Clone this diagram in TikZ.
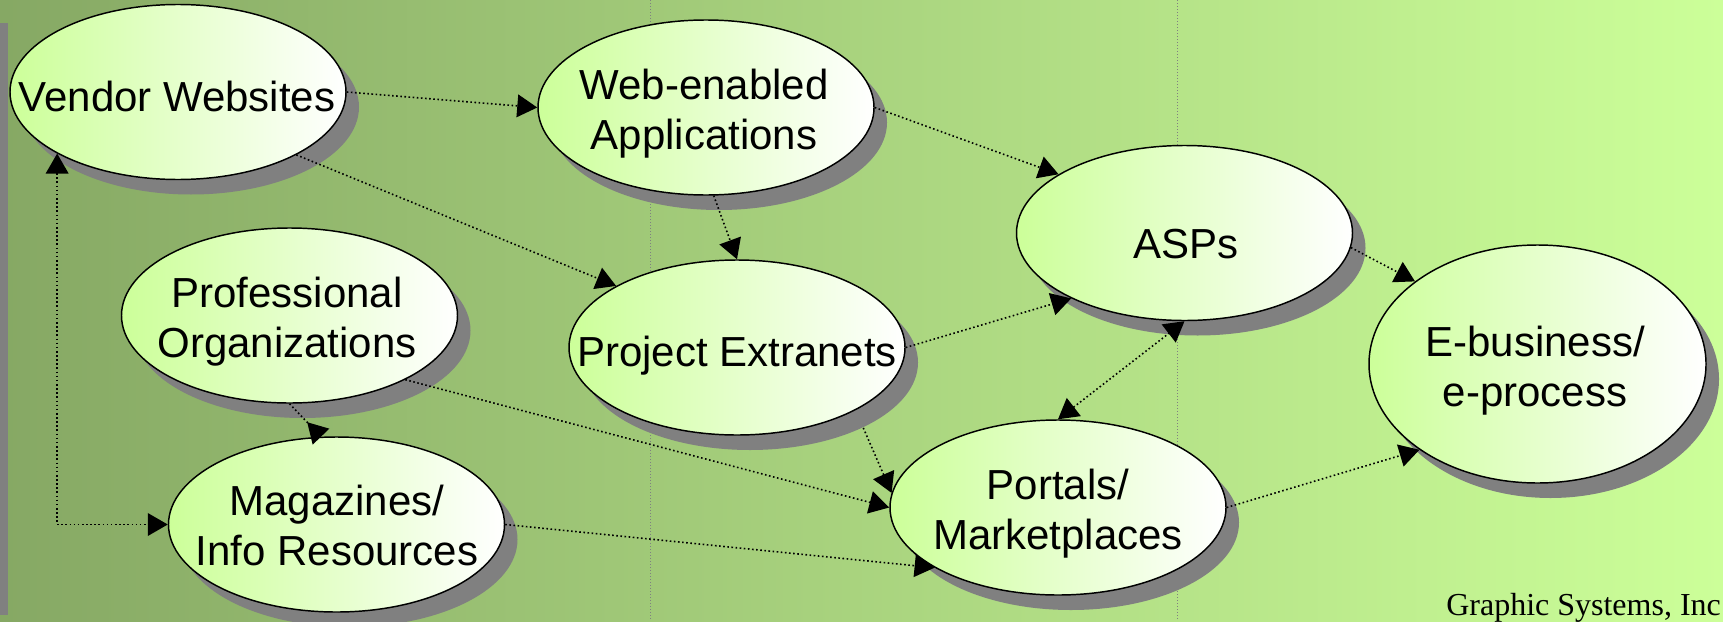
\documentclass[tikz,border=0pt]{standalone}
\usepackage{fontspec}
\setmainfont{Liberation Sans}
\newfontfamily\creditfont{Liberation Serif}
\usetikzlibrary{shapes.geometric, arrows.meta, shadows}

\definecolor{bgdark}{RGB}{134,168,100}
\definecolor{bglight}{RGB}{204,255,153}
\definecolor{bubgreen}{RGB}{204,255,153}
\definecolor{shadowgray}{RGB}{128,128,128}

\pgfdeclarehorizontalshading{bgfade}{100bp}{color(0bp)=(bgdark); color(25bp)=(bgdark); color(75bp)=(bglight); color(100bp)=(bglight)}

\tikzset{
  >={Triangle[length=15pt,width=17pt]},
  bubble/.style={ellipse, draw=black, line width=1.1pt, left color=bubgreen, right color=white,
    minimum width=252pt, minimum height=131.25pt, inner sep=0pt,
    drop shadow={shadow xshift=9.75pt, shadow yshift=-11.25pt, fill=shadowgray, opacity=1}},
  bubtext/.style={font=\fontsize{31.5}{37.5}\selectfont, align=center, inner sep=0pt},
  link/.style={line width=1.2pt, dash pattern=on 1.2pt off 1.9pt, ->},
  guide/.style={shadowgray, line width=0.75pt, dash pattern=on 0.75pt off 1.5pt}
}

\begin{document}
\begin{tikzpicture}[x=0.75pt,y=0.75pt,yscale=-1,xscale=1]
	\useasboundingbox (0,0) rectangle (1723,621);
	
	%Shape: Background
	\shade [shading=bgfade] (0,0) rectangle (1723,621);
	%Shape: Rectangle [left bar]
	\fill [shadowgray] (0,23) rectangle (8.4,615);
	%Straight Lines [guides]
	\draw [guide] (650,0) -- (650,621);
	\draw [guide] (1177.5,0) -- (1177.5,621);
	
	%Shape: Ellipse
	\node [bubble] (vendor) at (178,92) {};
	%Shape: Ellipse
	\node [bubble] (web) at (706,107.5) {};
	%Shape: Ellipse
	\node [bubble] (asps) at (1184.5,233) {};
	%Shape: Ellipse
	\node [bubble, minimum width=252.75pt, minimum height=178.5pt] (ebiz) at (1537.5,364) {};
	%Shape: Ellipse
	\node [bubble] (prof) at (289.5,315.5) {};
	%Shape: Ellipse
	\node [bubble] (proj) at (737,347.5) {};
	%Shape: Ellipse
	\node [bubble] (mag) at (336.5,524.5) {};
	%Shape: Ellipse
	\node [bubble] (portal) at (1058,507.5) {};
	
	% Text Node
	\node [bubtext] (vendortxt) at (177,96) {Vendor Websites};
	% Text Node
	\node [bubtext] (webtxt) at (704,114) {Web-enabled\\Applications};
	% Text Node
	\node [bubtext] (aspstxt) at (1186,244) {ASPs};
	% Text Node
	\node [bubtext] (ebiztxt) at (1535,371) {E-business/\\e-process};
	% Text Node
	\node [bubtext] (proftxt) at (287,322) {Professional\\Organizations};
	% Text Node
	\node [bubtext] (projtxt) at (737,356) {Project Extranets};
	% Text Node
	\node [bubtext] (magtxt) at (337,525) {Magazines/\\Info Resources};
	% Text Node
	\node [bubtext] (portaltxt) at (1058,514) {Portals/\\Marketplaces};
	% Text Node
	\node [font=\creditfont\fontsize{24}{28}\selectfont, anchor=base west, inner sep=0pt] (credit) at (1446,615) {Graphic Systems, Inc};
	
	%Straight Lines
	\draw [link] (vendor.east) -- (web.west);
	\draw [link] (vendor.-28) -- (proj.153);
	\draw [link] (web.east) -- (asps.155);
	\draw [link] (web.-85) -- (proj.north);
	\draw [link] (asps.-5) -- (ebiz.146);
	\draw [link] (proj.east) -- (asps.-150);
	\draw [link, <->] (portal.north) -- (asps.south);
	\draw [link, -{Triangle[length=15pt,width=17pt,reversed]}] (prof.south) -- (mag.100);
	\draw [link, <->] (vendor.-153) |- (mag.west);
	\draw [link] (prof.-29) -- (portal.west);
	\draw [link] ([shift={(13,15)}]proj.-30) -- (portal.175);
	\draw [link] (mag.east) -- (portal.-154);
	\draw [link] (portal.east) -- (ebiz.-144);
	
\end{tikzpicture}
\end{document}
